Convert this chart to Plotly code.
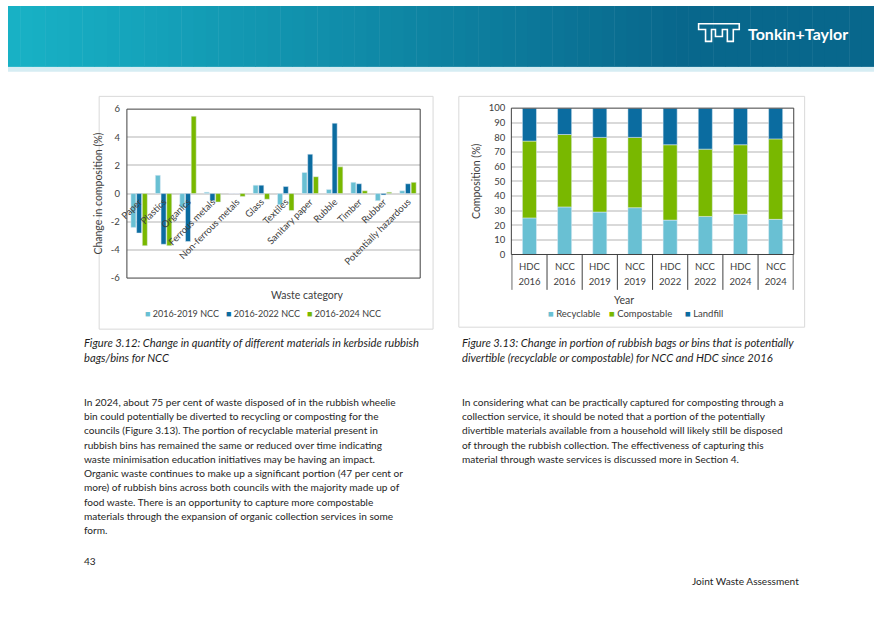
import plotly.graph_objects as go

# ---------------- data ----------------
waste_categories = ["Paper", "Plastics", "Organics", "Ferrous metals", "Non-ferrous metals",
                    "Glass", "Textiles", "Sanitary paper", "Rubble", "Timber", "Rubber",
                    "Potentially hazardous"]
change_2016_2019 = [-2.4, 1.3, -1.0, 0.1, 0.0, 0.6, -0.8, 1.5, 0.3, 0.8, -0.5, 0.2]
change_2016_2022 = [-2.8, -3.6, -3.4, -0.5, 0.0, 0.6, 0.5, 2.8, 5.0, 0.7, -0.1, 0.7]
change_2016_2024 = [-3.7, -3.7, 5.5, -0.6, -0.2, -0.4, -1.2, 1.2, 1.9, 0.2, 0.1, 0.8]
change_series = ["2016-2019 NCC", "2016-2022 NCC", "2016-2024 NCC"]
change_yticks = [-6, -4, -2, 0, 2, 4, 6]

councils = ["HDC", "NCC", "HDC", "NCC", "HDC", "NCC", "HDC", "NCC"]
years = ["2016", "2016", "2019", "2019", "2022", "2022", "2024", "2024"]
recyclable = [25.0, 32.5, 29.0, 32.0, 23.5, 26.0, 27.5, 24.0]
compostable = [52.5, 49.5, 51.0, 48.0, 51.5, 46.0, 47.5, 55.0]
landfill = [22.5, 18.0, 20.0, 20.0, 25.0, 28.0, 25.0, 21.0]
comp_series = ["Recyclable", "Compostable", "Landfill"]
comp_yticks = [0, 10, 20, 30, 40, 50, 60, 70, 80, 90, 100]

# ---------------- style ----------------
W, H = 874, 618
FONT = "Lato"
C_LIGHT = "#69c0d3"
C_DARK = "#0b6ca0"
C_GREEN = "#79b800"
AX_TXT = "#404040"
GRID = "#d9d9d9"


def px(x):
    return x / W


def py(y):
    return 1 - y / H


fig = go.Figure()

# ----- left chart: grouped bars -----
left_colors = [C_LIGHT, C_DARK, C_GREEN]
for name, vals, col in zip(change_series, [change_2016_2019, change_2016_2022, change_2016_2024],
                           left_colors):
    fig.add_trace(go.Bar(x=waste_categories, y=vals, name=name, marker_color=col,
                         xaxis="x", yaxis="y", showlegend=False))

# ----- right chart: stacked bars via shared offset + base -----
right_colors = [C_LIGHT, C_GREEN, C_DARK]
cat_keys = [c + " " + y for c, y in zip(councils, years)]
base = [0.0] * len(cat_keys)
for name, vals, col in zip(comp_series, [recyclable, compostable, landfill], right_colors):
    fig.add_trace(go.Bar(x=cat_keys, y=vals, base=list(base), name=name, marker_color=col,
                         width=0.4, offset=-0.2, xaxis="x2", yaxis="y2", showlegend=False))
    base = [b + v for b, v in zip(base, vals)]

L_X0, L_X1, L_Y0, L_Y1 = 120, 416, 105, 277
R_X0, R_X1, R_Y0, R_Y1 = 508, 793, 104, 253
zero_frac = (0 - (-6)) / 12.0

fig.update_layout(
    width=W, height=H, margin=dict(l=0, r=0, t=0, b=0, pad=0),
    paper_bgcolor="white", plot_bgcolor="white",
    font=dict(family=FONT, color=AX_TXT, size=9.5),
    barmode="group", bargap=0.3, bargroupgap=0.12,
    xaxis=dict(domain=[px(L_X0), px(L_X1)], anchor="free",
               position=py(L_Y1) + zero_frac * (py(L_Y0) - py(L_Y1)),
               type="category", tickangle=-45, showgrid=False, showline=False, zeroline=False,
               ticks="", tickfont=dict(size=9.5, color=AX_TXT), ticklabelstandoff=0),
    yaxis=dict(domain=[py(L_Y1), py(L_Y0)], anchor="x", range=[-6, 6],
               tickvals=change_yticks, ticktext=[str(v) for v in change_yticks],
               showgrid=True, gridcolor=GRID, gridwidth=1.5, zeroline=False, showline=False,
               ticks="", ticklabelstandoff=6, tickfont=dict(size=9.5, color=AX_TXT),
               title=dict(text="Change in composition (%)", font=dict(size=10.5, color=AX_TXT),
                          standoff=6)),
    xaxis2=dict(domain=[px(R_X0), px(R_X1)], anchor="y2", type="category",
                tickvals=cat_keys, ticktext=years, showgrid=False, showline=False, zeroline=False,
                ticks="", ticklabelstandoff=20, tickfont=dict(size=9.5, color=AX_TXT)),
    yaxis2=dict(domain=[py(R_Y1), py(R_Y0)], anchor="x2", range=[0, 100],
                tickvals=comp_yticks, ticktext=[str(v) for v in comp_yticks],
                showgrid=True, gridcolor=GRID, gridwidth=1.5, zeroline=False, showline=False,
                ticks="", ticklabelstandoff=5, tickfont=dict(size=9.5, color=AX_TXT),
                title=dict(text="Composition (%)", font=dict(size=10.5, color=AX_TXT), standoff=6)),
)

shapes = []
# header gradient banner
N = 70
c0 = (0x18, 0xb2, 0xc6)
c1 = (0x08, 0x67, 0x8c)
for i in range(N):
    xa = W * i / N
    xb = W * (i + 1) / N + 0.5
    t = min(1.0, ((xa + xb) / 2) / 680.0)
    col = "rgb(%d,%d,%d)" % tuple(round(a + (b - a) * t) for a, b in zip(c0, c1))
    shapes.append(dict(type="rect", xref="paper", yref="paper", x0=px(xa), x1=min(1, px(xb)),
                       y0=py(62), y1=py(0), fillcolor=col, line=dict(width=0), layer="below"))
shapes.append(dict(type="rect", xref="paper", yref="paper", x0=0, x1=1, y0=py(67), y1=py(62),
                   fillcolor="#d6edf3", line=dict(width=0), layer="below"))
# logo mark
pts = [(697, 18), (738, 18), (738, 24), (732, 24), (732, 36), (726, 36), (726, 24),
       (721, 24), (721, 31), (714, 31), (714, 24), (710, 24), (710, 36), (704, 36),
       (704, 24), (697, 24)]
path = "M " + " L ".join("%.5f,%.5f" % (px(a), py(b)) for a, b in pts) + " Z"
shapes.append(dict(type="path", xref="paper", yref="paper", path=path,
                   line=dict(color="white", width=1.6), fillcolor="rgba(0,0,0,0)"))
# chart outer boxes
shapes.append(dict(type="rect", xref="paper", yref="paper", x0=px(92), x1=px(429), y0=py(329), y1=py(92),
                   line=dict(color=GRID, width=1), layer="below"))
shapes.append(dict(type="rect", xref="paper", yref="paper", x0=px(455), x1=px(804), y0=py(327), y1=py(92),
                   line=dict(color=GRID, width=1), layer="below"))
# plot borders
for xr, yr in [("x", "y"), ("x2", "y2")]:
    shapes.append(dict(type="rect", xref=xr + " domain", yref=yr + " domain", x0=0, x1=1, y0=0, y1=1,
                       line=dict(color=AX_TXT, width=1), layer="above"))
# category dividers under the right chart
for i in range(len(cat_keys) + 1):
    shapes.append(dict(type="line", xref="x2", yref="paper", x0=i - 0.5, x1=i - 0.5,
                       y0=py(289), y1=py(R_Y1), line=dict(color=AX_TXT, width=1)))
fig.update_layout(shapes=shapes)

ann = []
ann.append(dict(text="<b>Tonkin+Taylor</b>", x=px(745), y=py(28), xref="paper", yref="paper",
                xanchor="left", yanchor="middle", showarrow=False,
                font=dict(family=FONT, size=16, color="white")))
for k, c in zip(cat_keys, councils):
    ann.append(dict(text=c, x=k, xref="x2", y=py(265), yref="paper", showarrow=False,
                    xanchor="center", yanchor="middle", font=dict(size=9.5, color=AX_TXT)))
ann.append(dict(text="Waste category", x=px(263), y=py(294), xref="paper", yref="paper",
                showarrow=False, font=dict(size=10.5, color=AX_TXT)))
ann.append(dict(text="Year", x=px(634), y=py(299), xref="paper", yref="paper",
                showarrow=False, font=dict(size=10.5, color=AX_TXT)))


# legends (built from series names / colours)
def add_legend(names, colors, xs, y, size):
    for n, c, x in zip(names, colors, xs):
        ann.append(dict(text="<span style='color:%s'>■</span> %s" % (c, n), x=px(x), y=py(y),
                        xref="paper", yref="paper", xanchor="left", yanchor="middle",
                        showarrow=False, font=dict(size=size, color=AX_TXT)))


add_legend(change_series, left_colors, [136, 218, 300], 313, 9)
add_legend(comp_series, right_colors, [543, 605, 681], 313, 9.5)

TXT = "#1e1e1e"


def add_lines(lines, x, y0, dy, italic=False, size=10.1):
    for i, line in enumerate(lines):
        t = "<i>%s</i>" % line if italic else line
        ann.append(dict(text=t, x=px(x), y=py(y0 + i * dy), xref="paper", yref="paper",
                        xanchor="left", yanchor="middle", showarrow=False,
                        font=dict(family=FONT, size=size, color=TXT)))


add_lines(["Figure 3.12: Change in quantity of different materials in kerbside rubbish",
           "bags/bins for NCC"], 75, 343, 14.5, italic=True, size=11.2)
add_lines(["Figure 3.13: Change in portion of rubbish bags or bins that is potentially",
           "divertible (recyclable or compostable) for NCC and HDC since 2016"], 456, 343, 14.5,
          italic=True, size=11.2)
add_lines(["In 2024, about 75 per cent of waste disposed of in the rubbish wheelie",
           "bin could potentially be diverted to recycling or composting for the",
           "councils (Figure 3.13). The portion of recyclable material present in",
           "rubbish bins has remained the same or reduced over time indicating",
           "waste minimisation education initiatives may be having an impact.",
           "Organic waste continues to make up a significant portion (47 per cent or",
           "more) of rubbish bins across both councils with the majority made up of",
           "food waste. There is an opportunity to capture more compostable",
           "materials through the expansion of organic collection services in some",
           "form."], 75, 403, 14.5)
add_lines(["In considering what can be practically captured for composting through a",
           "collection service, it should be noted that a portion of the potentially",
           "divertible materials available from a household will likely still be disposed",
           "of through the rubbish collection. The effectiveness of capturing this",
           "material through waste services is discussed more in Section 4."], 456, 403, 14.5)
ann.append(dict(text="43", x=px(75), y=py(565), xref="paper", yref="paper", xanchor="left",
                yanchor="middle", showarrow=False, font=dict(family=FONT, size=10.1, color=TXT)))
ann.append(dict(text="Joint Waste Assessment", x=px(800), y=py(585), xref="paper", yref="paper",
                xanchor="right", yanchor="middle", showarrow=False,
                font=dict(family=FONT, size=10.1, color=TXT)))
fig.update_layout(annotations=ann)

POST = ("var s=document.createElement('style');"
        "s.innerHTML='html,body{margin:0 !important;padding:0 !important;overflow:hidden;}';"
        "document.head.appendChild(s);"
        "document.body.style.margin='0px';")
fig.write_html("out.html", config={"displayModeBar": False}, post_script=POST)
